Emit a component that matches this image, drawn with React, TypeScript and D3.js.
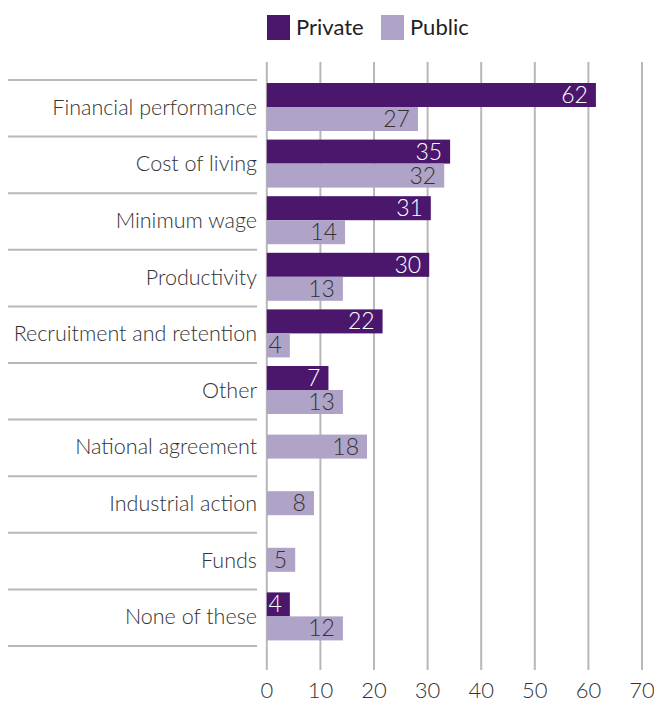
import React from "react";
import * as d3 from "d3";

const categories = [
  "Financial performance",
  "Cost of living",
  "Minimum wage",
  "Productivity",
  "Recruitment and retention",
  "Other",
  "National agreement",
  "Industrial action",
  "Funds",
  "None of these",
];
// bar lengths as drawn in the reference
const privateValues: (number | null)[] = [61.4, 34.2, 30.6, 30.3, 21.6, 11.5, null, null, null, 4.3];
const publicValues: number[] = [28.2, 33.1, 14.6, 14.2, 4.3, 14.2, 18.7, 8.8, 5.3, 14.2];
// printed data labels
const privateLabels: (number | null)[] = [62, 35, 31, 30, 22, 7, null, null, null, 4];
const publicLabels: number[] = [27, 32, 14, 13, 4, 13, 18, 8, 5, 12];
const xTicks = [0, 10, 20, 30, 40, 50, 60, 70];
const seriesNames = ["Private", "Public"];

const W = 654;
const H = 702;
const PRIV = "#4a176c";
const PUB = "#b0a3c8";
const GRID = "#b8b8b8";
const FONT = "Lato, 'Open Sans', sans-serif";

export default function App() {
  const x = d3.scaleLinear().domain([0, 70]).range([266.8, 642]);
  const y = d3.scaleBand<string>().domain(categories).range([80, 646]);
  const bh = 24;
  const bw = y.bandwidth();

  return (
    <svg
      width={W}
      height={H}
      style={{ position: "absolute", left: 0, top: 0, background: "#fff" }}
      fontFamily={FONT}
    >
      {/* legend */}
      <g>
        <rect x={267} y={15} width={23} height={25} fill={PRIV} />
        <text x={296} y={34.5} fontSize={22} fill="#222" fontWeight={400}>
          {seriesNames[0]}
        </text>
        <rect x={381} y={15} width={23} height={25} fill={PUB} />
        <text x={410} y={34.5} fontSize={22} fill="#222" fontWeight={400}>
          {seriesNames[1]}
        </text>
      </g>

      {/* vertical gridlines */}
      {xTicks.map((t) => (
        <line key={t} x1={x(t)} x2={x(t)} y1={62} y2={670} stroke={GRID} strokeWidth={2} />
      ))}

      {/* category separators */}
      {[...categories.map((c) => y(c) as number), 646].map((yy, i) => (
        <line key={i} x1={8} x2={257} y1={yy} y2={yy} stroke={GRID} strokeWidth={2} />
      ))}

      {/* bars */}
      {categories.map((c, i) => {
        const top = y(c) as number;
        const center = top + bw / 2 - 1.3;
        const pv = privateValues[i];
        const hasPriv = pv !== null;
        const pubTop = hasPriv ? center : center - bh / 2;
        return (
          <g key={c}>
            {hasPriv && (
              <>
                <rect x={x(0)} y={center - bh} width={x(pv as number) - x(0)} height={bh} fill={PRIV} />
                <text
                  x={x(pv as number) - 8}
                  y={center - bh / 2 + 8}
                  textAnchor="end"
                  fontSize={23}
                  fontWeight={300}
                  fill="#fff"
                >
                  {privateLabels[i]}
                </text>
              </>
            )}
            <rect x={x(0)} y={pubTop} width={x(publicValues[i]) - x(0)} height={bh} fill={PUB} />
            <text
              x={x(publicValues[i]) - 8}
              y={pubTop + bh / 2 + 8}
              textAnchor="end"
              fontSize={23}
              fontWeight={300}
              fill="#333"
            >
              {publicLabels[i]}
            </text>
            <text
              x={257}
              y={top + bw / 2 + 6.5}
              textAnchor="end"
              fontSize={21.5}
              fontWeight={300}
              fill="#333"
            >
              {c}
            </text>
          </g>
        );
      })}

      {/* tick labels */}
      {xTicks.map((t) => (
        <text key={t} x={x(t)} y={698} textAnchor="middle" fontSize={22} fontWeight={300} fill="#333">
          {t}
        </text>
      ))}
    </svg>
  );
}
